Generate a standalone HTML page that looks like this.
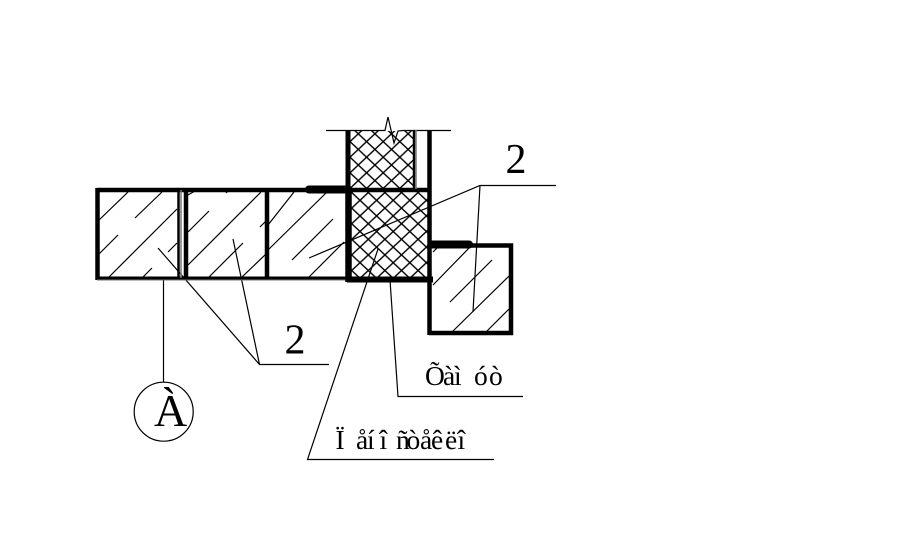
<!DOCTYPE html>
<html><head><meta charset="utf-8"><style>
html,body{margin:0;padding:0;background:#fff;width:897px;height:557px;overflow:hidden}
svg{display:block}
text{font-family:"Liberation Serif",serif;fill:#000}
</style></head><body>
<svg width="897" height="557" viewBox="0 0 897 557" xmlns="http://www.w3.org/2000/svg">
<defs>
<pattern id="x1" patternUnits="userSpaceOnUse" width="16.6" height="15.6" x="350" y="126">
<path d="M0 0L16.6 15.6M16.6 0L0 15.6" stroke="#000" stroke-width="1.4" fill="none"/>
</pattern>
<pattern id="x2" patternUnits="userSpaceOnUse" width="16.6" height="15.6" x="351.7" y="192.5">
<path d="M0 0L16.6 15.6M16.6 0L0 15.6" stroke="#000" stroke-width="1.4" fill="none"/>
</pattern>
</defs>
<rect x="350" y="131" width="64" height="57" fill="url(#x1)"/>
<rect x="350" y="192" width="78" height="85" fill="url(#x2)"/>
<g stroke="#000" stroke-width="1.2" fill="none">
<path d="M98 221L128 192M135 218L162 192M99 254L118 235M109 277L177 209M143 277L152 268M168 252L177 243"/>
<path d="M188 195L195 191M226 193L228 191M188 232L209 211M188 265L261 192M260 227L266 221M209 277L243 243M242 277L266 254"/>
<path d="M268 225L294 192M268 250L326 193M292 260L333 219M309 277L344 242"/>
<path d="M433 285L472 245M450 302L492 260M452 332L509 276M486 332L509 309M433 252L437 248"/>
<path d="M158 248L259.5 364.5M233 239L259.5 364.5L329 364.5"/>
<path d="M309 258L480 185.5L556 185.5M480 185.5L473 312"/>
<path d="M378 249L307.5 459.5L494 459.5"/>
<path d="M390 280L398 396.5L523 396.5"/>
<path d="M163.5 278V382"/>
<path d="M326 130.5H385L388 117L394 143L398 131L403 130.5H451"/>
<circle cx="163.7" cy="411.7" r="29.5"/>
</g>
<g stroke="#000" fill="none">
<path d="M97 190H431" stroke-width="4.5"/>
<path d="M97.5 188V280" stroke-width="4.5"/>
<path d="M97 278H348" stroke-width="3"/>
<path d="M97 280H348" stroke="#777" stroke-width="1"/>
<path d="M178.5 190V278" stroke-width="2.5"/>
<path d="M181 190V278" stroke="#777" stroke-width="1.5"/>
<path d="M186 190V278" stroke-width="4.5"/>
<path d="M267 190V278" stroke-width="4.5"/>
<path d="M348 130V188" stroke-width="5"/>
<path d="M348.5 188V282" stroke-width="6.5"/>
<path d="M414 130V189" stroke-width="2.5"/>
<path d="M416 130V189" stroke="#777" stroke-width="1.5"/>
<path d="M429.5 130V335" stroke-width="4.5"/>
<path d="M309 189.5H348" stroke-width="8" stroke-linecap="round"/>
<path d="M347 279.5H433" stroke-width="6"/>
<path d="M432 244.5H469" stroke-width="8" stroke-linecap="round"/>
<path d="M429 245.5H511V333H429" stroke-width="4.5"/>
</g>
<text x="505.5" y="173" font-size="42">2</text>
<text x="284.5" y="353.5" font-size="42">2</text>
<text x="154" y="426" font-size="46">À</text>
<text y="385" font-size="27.5" x="425 443 454 474 489">Õàìóò</text>
<text y="449" font-size="27.5" x="335.5 356 367 379.5 396 406.5 420 431"><tspan>Ïåíîñòåê</tspan><tspan x="445">ë</tspan><tspan x="457.5">î</tspan></text>
</svg>
</body></html>
